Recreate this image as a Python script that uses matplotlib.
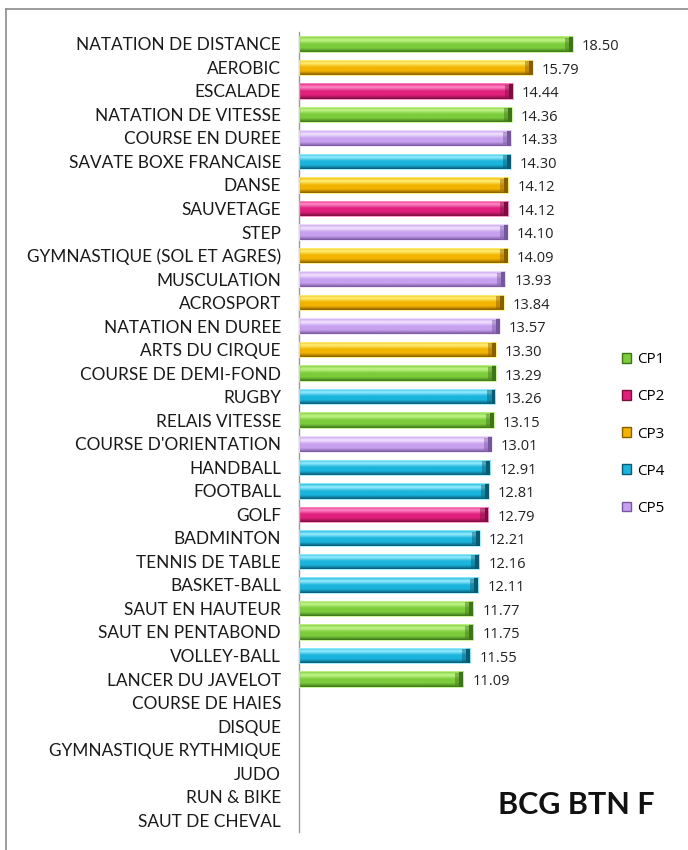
import numpy as np
import matplotlib
matplotlib.use("Agg")
import matplotlib.pyplot as plt
from matplotlib.colors import LinearSegmentedColormap
from matplotlib.patches import Patch

activities = [
    "NATATION DE DISTANCE", "AEROBIC", "ESCALADE", "NATATION DE VITESSE",
    "COURSE EN DUREE", "SAVATE BOXE FRANCAISE", "DANSE", "SAUVETAGE", "STEP",
    "GYMNASTIQUE (SOL ET AGRES)", "MUSCULATION", "ACROSPORT",
    "NATATION EN DUREE", "ARTS DU CIRQUE", "COURSE DE DEMI-FOND", "RUGBY",
    "RELAIS VITESSE", "COURSE D'ORIENTATION", "HANDBALL", "FOOTBALL", "GOLF",
    "BADMINTON", "TENNIS DE TABLE", "BASKET-BALL", "SAUT EN HAUTEUR",
    "SAUT EN PENTABOND", "VOLLEY-BALL", "LANCER DU JAVELOT",
    "COURSE DE HAIES", "DISQUE", "GYMNASTIQUE RYTHMIQUE", "JUDO",
    "RUN & BIKE", "SAUT DE CHEVAL",
]
scores = [
    18.50, 15.79, 14.44, 14.36, 14.33, 14.30, 14.12, 14.12, 14.10, 14.09,
    13.93, 13.84, 13.57, 13.30, 13.29, 13.26, 13.15, 13.01, 12.91, 12.81,
    12.79, 12.21, 12.16, 12.11, 11.77, 11.75, 11.55, 11.09,
    np.nan, np.nan, np.nan, np.nan, np.nan, np.nan,
]
groups = [
    "CP1", "CP3", "CP2", "CP1", "CP5", "CP4", "CP3", "CP2", "CP5", "CP3",
    "CP5", "CP3", "CP5", "CP3", "CP1", "CP4", "CP1", "CP5", "CP4", "CP4",
    "CP2", "CP4", "CP4", "CP4", "CP1", "CP1", "CP4", "CP1",
    None, None, None, None, None, None,
]
cp_names = ["CP1", "CP2", "CP3", "CP4", "CP5"]

# light / base / dark for each CP
cp_colors = {
    "CP1": ("#c4f58a", "#7ccc3c", "#3d7418"),
    "CP2": ("#ff8cc8", "#e0207c", "#7c0e3e"),
    "CP3": ("#fff07a", "#f2b400", "#8a5c00"),
    "CP4": ("#9aeeff", "#1ab4dc", "#0a5a72"),
    "CP5": ("#f2e4ff", "#c8a0f0", "#76569c"),
}

plt.rcParams['font.family'] = ['Open Sans', 'DejaVu Sans']

fig = plt.figure(figsize=(6.88, 8.5), dpi=100)
ax = fig.add_axes([299 / 688, 18 / 850, 307 / 688, 800 / 850])

n = len(activities)
y = np.arange(n)
vals = np.nan_to_num(np.array(scores, dtype=float))
h = 0.66

bars = ax.barh(y, vals, height=h, color="none", edgecolor="none", zorder=5)
grad = np.linspace(0, 1, 64).reshape(-1, 1)
cap = 0.26
for b, g in zip(bars, groups):
    if g is None:
        continue
    light, base, dark = cp_colors[g]
    cmap = LinearSegmentedColormap.from_list(g, [base, light, base, base, dark])
    x0, y0, w, hh = b.get_x(), b.get_y(), b.get_width(), b.get_height()
    im = ax.imshow(grad, cmap=cmap, aspect="auto",
                   extent=[x0, x0 + w, y0 + hh, y0], zorder=2,
                   interpolation="bilinear")
    im.set_clip_path(b)
    # bevelled end of the bar
    ax.barh(y0 + hh / 2, cap * 1.2, left=x0 + w - cap * 2.1, height=hh * 0.8,
            color=dark, alpha=0.45, zorder=3)
    ax.barh(y0 + hh / 2, cap, left=x0 + w - cap, height=hh,
            color=dark, zorder=4)
    b.set_edgecolor(light)
    b.set_linewidth(0.6)

for yi, v in zip(y, scores):
    if not np.isnan(v):
        ax.text(v + 0.62, yi + 0.12, f"{v:.2f}", va="center", ha="left",
                fontsize=10.5, color="#222222")

ax.set_xlim(0, 20.73)
ax.set_ylim(n - 0.5, -0.5)
ax.set_yticks(y)
ax.set_yticklabels(activities, fontsize=12.4, color="#1a1a1a",
                   family=["Lato", "DejaVu Sans"])
ax.tick_params(axis="y", length=0, pad=13)
ax.set_xticks([])
for s in ["top", "right", "bottom"]:
    ax.spines[s].set_visible(False)
ax.spines["left"].set_color("#999999")
ax.spines["left"].set_linewidth(1.0)

handles = [Patch(facecolor=cp_colors[c][1], edgecolor=cp_colors[c][2])
           for c in cp_names]
fig.legend(handles, cp_names, loc="center left",
           bbox_to_anchor=(608 / 688, 1 - 434 / 850), frameon=False,
           fontsize=11, labelspacing=1.45, handlelength=0.6,
           handleheight=0.6, handletextpad=0.4)

fig.text(576 / 688, 1 - 805 / 850, "BCG BTN F", fontsize=22, weight="bold",
         ha="center", va="center", color="#111111", family="Lato")

# partial frame around the chart (left and top)
fig.add_artist(plt.Line2D([6 / 688, 6 / 688], [0, 1 - 9 / 850],
                          color="#8c8c8c", lw=1.2))
fig.add_artist(plt.Line2D([6 / 688, 1], [1 - 9 / 850, 1 - 9 / 850],
                          color="#8c8c8c", lw=1.2))

fig.savefig("out.png", dpi=100)
